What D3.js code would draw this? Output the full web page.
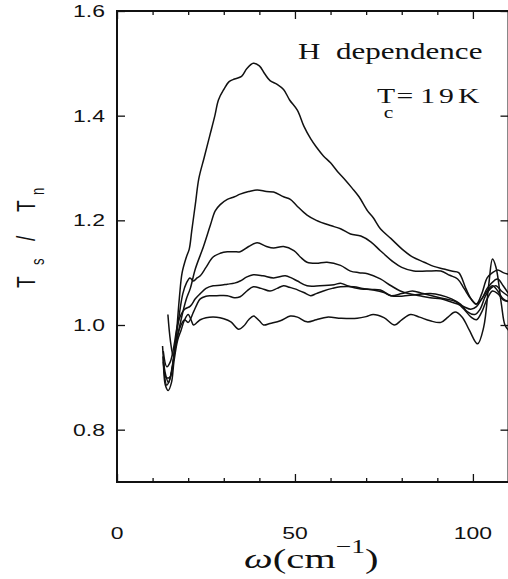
<!DOCTYPE html>
<html>
<head>
<meta charset="utf-8">
<script src="https://cdn.jsdelivr.net/npm/d3@7"></script>
<style>
  html, body { margin: 0; padding: 0; background: #fff; }
  svg { display: block; }
</style>
</head>
<body>
<div id="chart"></div>
<script>
'use strict';

// omega (cm^-1) and Ts/Tn, one array per field curve
var curve1 = [[14.3,1.02],[15,0.97],[15.8,0.94],[16.5,0.97],[17.5,1.05],[18.3,1.10],[19.5,1.13],[20.3,1.145],[21,1.18],[22,1.23],[23,1.28],[24.5,1.32],[26,1.36],[27.5,1.40],[28.5,1.43],[30,1.45],[31.5,1.465],[33,1.47],[35,1.475],[36.5,1.49],[38.3,1.50],[40,1.495],[41.5,1.48],[43,1.467],[45,1.46],[46.8,1.45],[48.5,1.43],[50.7,1.41],[52.5,1.38],[54.4,1.356],[56,1.34],[58,1.323],[60,1.31],[62,1.293],[64,1.278],[66,1.262],[68,1.245],[70.4,1.218],[72,1.205],[74,1.184],[77,1.165],[80.6,1.142],[83,1.13],[86.3,1.12],[89,1.112],[91.8,1.107],[94,1.103],[96,1.10],[98,1.07],[99.5,1.05],[101,1.04],[102.5,1.06],[104,1.09],[105.5,1.10],[107,1.105],[108.5,1.10],[110,1.097]];
var curve2 = [[13,0.93],[14,0.885],[15,0.90],[16.5,0.96],[18,1.01],[19.5,1.05],[20.6,1.07],[22,1.107],[24.3,1.15],[26.2,1.19],[27.6,1.218],[29,1.23],[31,1.24],[33,1.245],[34.6,1.25],[37,1.255],[39.4,1.258],[42,1.255],[44,1.254],[46.8,1.245],[48.7,1.24],[50.5,1.228],[53.4,1.21],[56,1.20],[60,1.19],[62.8,1.184],[65.6,1.174],[68.5,1.17],[71.3,1.159],[74,1.142],[77.7,1.12],[80,1.11],[83.4,1.103],[87,1.103],[91,1.103],[93.5,1.095],[95.7,1.088],[97.5,1.07],[99.4,1.05],[101,1.04],[102.5,1.05],[104,1.07],[106,1.085],[107,1.088],[108.5,1.075],[110,1.06]];
var curve3 = [[12.8,0.96],[13.5,0.91],[14.5,0.89],[15.5,0.92],[16.5,0.97],[17.5,1.02],[18.5,1.06],[19.5,1.08],[20.5,1.09],[21.5,1.084],[22.5,1.09],[23.4,1.094],[25,1.11],[27,1.13],[29,1.137],[31,1.14],[33,1.14],[34.6,1.14],[37,1.15],[39.4,1.157],[42,1.15],[44,1.147],[46.8,1.15],[49.7,1.142],[51.5,1.13],[53.4,1.12],[56,1.118],[59,1.12],[62.8,1.114],[65.6,1.103],[68,1.10],[70.4,1.098],[74,1.088],[77,1.075],[79.6,1.065],[82,1.06],[85,1.056],[88,1.052],[91,1.05],[93.5,1.045],[95.7,1.04],[97.5,1.035],[99.4,1.03],[101,1.035],[102.5,1.05],[104,1.065],[105.5,1.075],[107,1.065],[108.5,1.05],[110,1.045]];
var curve4 = [[13,0.95],[14,0.92],[15,0.93],[16,0.96],[17,1.0],[18,1.02],[19,1.03],[20.6,1.036],[22,1.05],[23.4,1.06],[25,1.07],[27,1.075],[29,1.076],[31,1.078],[33,1.08],[34.6,1.084],[36.5,1.092],[38.3,1.096],[41,1.094],[44,1.09],[47.3,1.094],[49,1.09],[50.7,1.084],[53.4,1.075],[57,1.075],[61,1.077],[62.8,1.08],[64.7,1.075],[68.5,1.069],[71,1.068],[74,1.067],[77,1.056],[80,1.055],[84,1.058],[88,1.06],[91,1.057],[94,1.05],[96.5,1.04],[98.5,1.025],[100.5,1.02],[102,1.03],[103.5,1.055],[105,1.07],[106.5,1.075],[108,1.065],[110,1.055]];
var curve5 = [[13,0.94],[13.8,0.90],[14.8,0.90],[16,0.94],[17,0.98],[18,1.0],[19,1.01],[20,1.005],[21.5,1.025],[22.5,1.04],[23.4,1.05],[25,1.055],[26.2,1.056],[28,1.056],[31,1.056],[33,1.052],[34.6,1.054],[36.5,1.065],[38.3,1.073],[40.5,1.07],[43,1.065],[45,1.07],[46.8,1.075],[48.5,1.072],[50,1.069],[52.5,1.062],[54.4,1.056],[56,1.06],[58,1.065],[60.5,1.07],[62.8,1.073],[66.5,1.073],[69,1.07],[72,1.067],[75,1.062],[77,1.056],[80,1.06],[83,1.065],[86,1.06],[89,1.055],[92,1.05],[95,1.045],[97.5,1.03],[99.5,1.015],[101,1.01],[102.5,1.025],[104,1.05],[105.5,1.065],[107,1.06],[108.5,1.048],[110,1.045]];
var curve6 = [[13,0.94],[13.6,0.885],[14.4,0.875],[15.3,0.89],[16,0.93],[17,0.97],[18,0.99],[19,1.01],[20,1.02],[20.8,1.01],[21.5,1.0],[22.5,1.005],[23.4,1.01],[25,1.014],[28,1.015],[30,1.012],[32,1.006],[34.2,0.992],[35.6,0.998],[37,1.01],[38.4,1.017],[40,1.008],[41.2,1.0],[43,1.003],[45.9,1.008],[48.7,1.017],[50.7,1.015],[53.4,1.006],[56,1.01],[59,1.015],[63,1.013],[67.5,1.013],[70,1.016],[72,1.02],[75,1.014],[78,1.0],[80,1.01],[82.5,1.02],[85,1.015],[88,1.008],[91,1.005],[93,1.015],[95,1.025],[97,1.015],[99,0.99],[101.3,0.964],[103,0.995],[104.5,1.08],[105.5,1.126],[106.5,1.11],[108,1.04],[109,1.0],[110,0.99]];

var curves = [curve1, curve2, curve3, curve4, curve5, curve6];

var xTicks = [0, 50, 100];
var xMinor = [10, 20, 30, 40, 60, 70, 80, 90, 110];
var yTicks = [0.8, 1.0, 1.2, 1.4, 1.6];

var W = 508, H = 579;
var plotLeft = 117, plotRight = 508.5, plotTop = 11, plotBottom = 482;
var STRETCH = 1.35;   // the original print is widened horizontally

var svg = d3.select('#chart').append('svg')
  .attr('width', W)
  .attr('height', H);

var x = d3.scaleLinear().domain([0, 110]).range([plotLeft, plotRight]);
var y = d3.scaleLinear().domain([0.7, 1.6]).range([plotBottom, plotTop]);

var sans = '"Liberation Sans", Arial, sans-serif';
var serif = '"Liberation Serif", "Times New Roman", serif';

// text node that is widened like the scan
function wideText(px, py, extra, k) {
  return svg.append('text')
    .attr('transform', 'translate(' + px + ',' + py + ') scale(' + (k || STRETCH) + ',1)' + (extra || ''))
    .attr('fill', '#111');
}

// data curves
var line = d3.line()
  .x(function(d) { return x(d[0]); })
  .y(function(d) { return y(d[1]); })
  .curve(d3.curveCatmullRom.alpha(0.5));

svg.append('g').selectAll('path')
  .data(curves)
  .enter().append('path')
  .attr('d', line)
  .attr('fill', 'none')
  .attr('stroke', '#111')
  .attr('stroke-width', 1.5)
  .attr('stroke-linejoin', 'round');

// frame
svg.append('rect')
  .attr('x', plotLeft).attr('y', plotTop)
  .attr('width', plotRight - plotLeft).attr('height', plotBottom - plotTop)
  .attr('fill', 'none')
  .attr('stroke', '#111')
  .attr('stroke-width', 2);

// ticks on all four sides, pointing inward
var bottomAxis = d3.axisBottom(x).tickValues(xTicks).tickSize(-8).tickFormat('');
var bottomMinor = d3.axisBottom(x).tickValues(xMinor).tickSize(-4).tickFormat('');
var topAxis = d3.axisTop(x).tickValues(xTicks).tickSize(-8).tickFormat('');
var topMinor = d3.axisTop(x).tickValues(xMinor).tickSize(-4).tickFormat('');
var leftAxis = d3.axisLeft(y).tickValues(yTicks).tickSize(-8).tickFormat('');
var rightAxis = d3.axisRight(y).tickValues(yTicks).tickSize(-8).tickFormat('');

[[bottomAxis, 'translate(0,' + plotBottom + ')'],
 [bottomMinor, 'translate(0,' + plotBottom + ')'],
 [topAxis, 'translate(0,' + plotTop + ')'],
 [topMinor, 'translate(0,' + plotTop + ')'],
 [leftAxis, 'translate(' + plotLeft + ',0)'],
 [rightAxis, 'translate(' + plotRight + ',0)']].forEach(function(a) {
  var g = svg.append('g').attr('transform', a[1]).call(a[0]);
  g.select('.domain').remove();
  g.selectAll('line').attr('stroke', '#111').attr('stroke-width', 1.3);
});

// tick labels
xTicks.forEach(function(d) {
  wideText(x(d), 539)
    .attr('text-anchor', 'middle')
    .attr('font-family', sans)
    .attr('font-size', 17)
    .text(d);
});

yTicks.forEach(function(d) {
  wideText(105, y(d) + 6)
    .attr('text-anchor', 'end')
    .attr('font-family', sans)
    .attr('font-size', 17)
    .text(d.toFixed(1));
});

// y title: Ts / Tn
var yTitle = wideText(35, 288, ' rotate(-90)')
  .attr('font-family', sans)
  .attr('font-size', 19);
yTitle.append('tspan').attr('x', 0).text('T');
yTitle.append('tspan').attr('x', 23).attr('dy', 7).attr('font-size', 13).text('s');
yTitle.append('tspan').attr('x', 47).attr('dy', -7).text('/');
yTitle.append('tspan').attr('x', 76).text('T');
yTitle.append('tspan').attr('x', 93).attr('dy', 7).attr('font-size', 13).text('n');

// x title: omega(cm^-1)
var xTitle = wideText(244, 568, '', 1.45)
  .attr('font-family', serif)
  .attr('font-size', 28);
xTitle.append('tspan').attr('font-style', 'italic').text('ω');
xTitle.append('tspan').text('(cm');
xTitle.append('tspan').attr('dy', -15).attr('font-size', 19).text('−1');
xTitle.append('tspan').attr('dy', 15).text(')');

// annotations
wideText(298, 59)
  .attr('font-family', serif)
  .attr('font-size', 23)
  .text('H\u00a0\u00a0dependence');

var tc = wideText(377, 103)
  .attr('font-family', serif)
  .attr('font-size', 22);
tc.append('tspan').attr('x', 0).text('T');
tc.append('tspan').attr('x', 5).attr('dy', 15).attr('font-size', 16).text('c');
tc.append('tspan').attr('x', 14.5).attr('dy', -15).text('=');
tc.append('tspan').attr('x', 32).attr('letter-spacing', 3).text('19K');
</script>
</body>
</html>
